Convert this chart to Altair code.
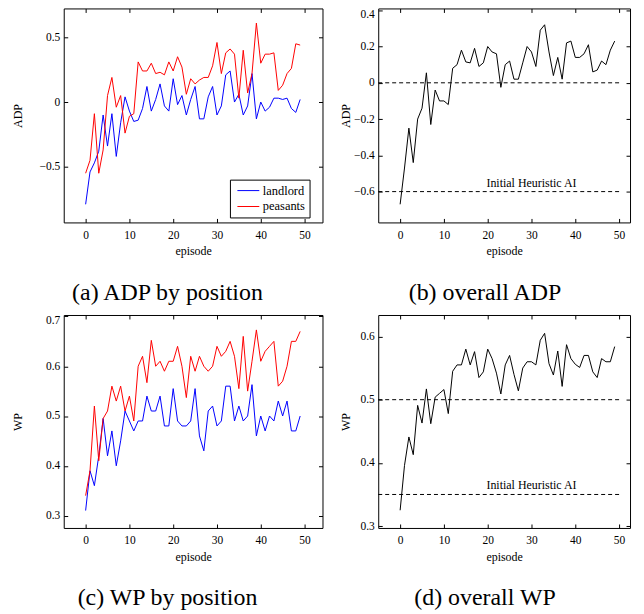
import altair as alt
import pandas as pd

episodes = list(range(50))

adp_landlord = [-0.79, -0.54, -0.47, -0.38, -0.10, -0.34, -0.09, -0.42, -0.16, 0.04,
                -0.07, -0.15, -0.14, -0.05, 0.12, -0.07, 0.02, 0.14, -0.03, -0.07,
                0.18, -0.02, 0.05, -0.10, 0.02, 0.12, -0.13, -0.13, 0.04, 0.12,
                -0.10, -0.03, 0.21, 0.24, 0.00, 0.06, -0.10, -0.03, 0.22, -0.13,
                0.00, -0.07, -0.04, 0.03, 0.03, 0.02, 0.03, -0.05, -0.08, 0.02]
adp_peasants = [-0.55, -0.45, -0.09, -0.55, -0.37, 0.05, 0.19, -0.04, 0.05, -0.24,
                -0.11, -0.09, 0.31, 0.24, 0.24, 0.30, 0.22, 0.23, 0.21, 0.31,
                0.24, 0.35, 0.27, 0.06, 0.18, 0.14, 0.17, 0.19, 0.19, 0.28,
                0.46, 0.22, 0.38, 0.41, 0.37, 0.03, 0.40, 0.07, 0.22, 0.61,
                0.30, 0.37, 0.37, 0.38, 0.09, 0.13, 0.22, 0.26, 0.45, 0.44]
adp_overall = [-0.67, -0.47, -0.25, -0.44, -0.20, -0.14, 0.055, -0.23, -0.04, -0.10,
               -0.10, -0.12, 0.08, 0.10, 0.18, 0.115, 0.11, 0.19, 0.09, 0.11,
               0.20, 0.17, 0.16, -0.025, 0.10, 0.12, 0.02, 0.02, 0.11, 0.20,
               0.17, 0.09, 0.29, 0.32, 0.17, 0.04, 0.14, 0.02, 0.22, 0.23,
               0.14, 0.14, 0.16, 0.21, 0.06, 0.07, 0.12, 0.10, 0.18, 0.23]
wp_landlord = [0.31, 0.39, 0.36, 0.42, 0.495, 0.42, 0.47, 0.40, 0.45, 0.51,
               0.49, 0.47, 0.49, 0.49, 0.54, 0.51, 0.51, 0.54, 0.48, 0.48,
               0.555, 0.49, 0.48, 0.48, 0.49, 0.555, 0.46, 0.43, 0.51, 0.52,
               0.48, 0.49, 0.56, 0.56, 0.49, 0.52, 0.49, 0.50, 0.563, 0.46,
               0.50, 0.47, 0.50, 0.49, 0.53, 0.50, 0.53, 0.47, 0.47, 0.50]
wp_peasants = [0.34, 0.39, 0.52, 0.41, 0.495, 0.51, 0.56, 0.53, 0.56, 0.51,
               0.54, 0.49, 0.60, 0.62, 0.567, 0.652, 0.60, 0.61, 0.59, 0.61,
               0.61, 0.64, 0.60, 0.537, 0.62, 0.59, 0.62, 0.60, 0.59, 0.60,
               0.64, 0.62, 0.63, 0.65, 0.62, 0.555, 0.66, 0.55, 0.61, 0.673,
               0.61, 0.63, 0.64, 0.65, 0.56, 0.57, 0.60, 0.65, 0.65, 0.67]
wp_overall = [0.325, 0.396, 0.441, 0.413, 0.491, 0.463, 0.517, 0.462, 0.504, 0.51,
              0.516, 0.478, 0.545, 0.555, 0.555, 0.58, 0.555, 0.576, 0.535, 0.544,
              0.58, 0.565, 0.542, 0.509, 0.555, 0.57, 0.54, 0.514, 0.55, 0.56,
              0.56, 0.555, 0.594, 0.605, 0.557, 0.539, 0.577, 0.521, 0.587, 0.565,
              0.556, 0.551, 0.57, 0.57, 0.544, 0.535, 0.565, 0.56, 0.56, 0.584]

series_names = ["landlord", "peasants"]
series_colors = ["#0000ff", "#ff0000"]

x_ticks = [0, 10, 20, 30, 40, 50]
adp_pos_ticks = [-0.5, 0, 0.5]
adp_all_ticks = [-0.6, -0.4, -0.2, 0, 0.2, 0.4]
wp_pos_ticks = [0.3, 0.4, 0.5, 0.6, 0.7]
wp_all_ticks = [0.3, 0.4, 0.5, 0.6]

adp_refs = [0.0, -0.6]
wp_refs = [0.5, 0.35]
ref_start = -5
ref_end = 50
ref_label = "Initial Heuristic AI"
ref_label_episode = 30

captions = ["(a) ADP by position", "(b) overall ADP", "(c) WP by position", "(d) overall WP"]

FONT = "Liberation Serif"
TICK_FS = 11.5


def x_axis_bottom():
    return alt.Axis(values=x_ticks, format="d", orient="bottom", offset=-4, tickSize=4,
                    domain=False, grid=False, labelPadding=7, title="episode",
                    titlePadding=5, labelFont=FONT, labelFontSize=TICK_FS,
                    titleFont=FONT, titleFontSize=12, titleFontWeight="normal",
                    labelColor="black", titleColor="black", tickColor="black")


def x_axis_top():
    return alt.Axis(values=x_ticks, orient="top", offset=-4, tickSize=4, domain=False,
                    grid=False, labels=False, title=None, tickColor="black")


def y_axis_left(ticks, title, ext, tpad, flush):
    if flush:
        return alt.Axis(values=ticks, format="~g", orient="left", offset=-4, tickSize=4,
                        domain=False, grid=False, labelPadding=4, title=title,
                        minExtent=ext, maxExtent=ext, titlePadding=tpad,
                        labelFlush=3, labelFlushOffset=1.5,
                        labelFont=FONT, labelFontSize=TICK_FS, titleFont=FONT,
                        titleFontSize=12, titleFontWeight="normal", labelColor="black",
                        titleColor="black", tickColor="black")
    return alt.Axis(values=ticks, format="~g", orient="left", offset=-4, tickSize=4,
                    domain=False, grid=False, labelPadding=4, title=title,
                    minExtent=ext, maxExtent=ext, titlePadding=tpad,
                    labelFont=FONT, labelFontSize=TICK_FS, titleFont=FONT, titleFontSize=12,
                    titleFontWeight="normal", labelColor="black", titleColor="black",
                    tickColor="black")


def y_axis_right(ticks):
    return alt.Axis(values=ticks, orient="right", offset=-4, tickSize=4, domain=False,
                    grid=False, labels=False, title=None, tickColor="black")


def caption(text):
    return alt.TitleParams(text=text, orient="bottom", anchor="middle", frame="bounds",
                           font=FONT, fontSize=24, fontWeight="normal", color="black",
                           offset=24)


def panel_pos(landlord, peasants, yticks, ydomain, ytitle, cap, height, flush):
    df = pd.DataFrame({
        "episode": episodes + episodes,
        "value": landlord + peasants,
        "series": [series_names[0]] * len(landlord) + [series_names[1]] * len(peasants),
    })
    xs = alt.Scale(domain=[-5, 54.1], nice=False, zero=False)
    ys = alt.Scale(domain=ydomain, nice=False, zero=False)
    lines = alt.Chart(df).mark_line(strokeWidth=1, clip=True).encode(
        x=alt.X("episode:Q", scale=xs, axis=x_axis_bottom()),
        y=alt.Y("value:Q", scale=ys, axis=y_axis_left(yticks, ytitle, 38, 5, flush)),
        color=alt.Color("series:N",
                        scale=alt.Scale(domain=series_names, range=series_colors),
                        legend=alt.Legend(orient="none", legendX=167, legendY=172,
                                          title=None, symbolType="stroke",
                                          symbolSize=484, symbolStrokeWidth=1,
                                          clipHeight=14,
                                          symbolOffset=3, labelOffset=3,
                                          labelFont=FONT, labelFontSize=12.5,
                                          labelColor="black",
                                          strokeColor="black", fillColor="white",
                                          padding=4, rowPadding=2, cornerRadius=0)),
    )
    frame = alt.Chart(df).mark_line(strokeOpacity=0).encode(
        x=alt.X("episode:Q", scale=xs, axis=x_axis_top()),
        y=alt.Y("value:Q", scale=ys, axis=y_axis_right(yticks)),
        detail="series:N",
    )
    return alt.layer(lines, frame).resolve_axis(x="independent", y="independent").properties(
        width=260, height=height, title=caption(cap))


def panel_all(values, yticks, ydomain, ytitle, refs, cap, height, flush):
    df = pd.DataFrame({"episode": episodes, "value": values})
    rdf = pd.DataFrame({"ref": refs, "x_start": [ref_start] * len(refs),
                        "x_end": [ref_end] * len(refs)})
    tdf = pd.DataFrame({"episode": [ref_label_episode], "ref": [refs[-1]], "label": [ref_label]})
    xs = alt.Scale(domain=[-5, 52.5], nice=False, zero=False)
    ys = alt.Scale(domain=ydomain, nice=False, zero=False)
    line = alt.Chart(df).mark_line(strokeWidth=1, color="black", clip=True).encode(
        x=alt.X("episode:Q", scale=xs, axis=x_axis_bottom()),
        y=alt.Y("value:Q", scale=ys, axis=y_axis_left(yticks, ytitle, 26, 4, flush)),
    )
    rules = alt.Chart(rdf).mark_rule(strokeWidth=1, color="black", strokeDash=[4, 3]).encode(
        x=alt.X("x_start:Q", scale=xs, axis=x_axis_top()),
        x2="x_end:Q",
        y=alt.Y("ref:Q", scale=ys, axis=y_axis_right(yticks)),
    )
    text = alt.Chart(tdf).mark_text(font=FONT, fontSize=12, color="black", align="center",
                                    baseline="alphabetic", dy=-5).encode(
        x=alt.X("episode:Q", scale=xs, axis=None),
        y=alt.Y("ref:Q", scale=ys, axis=None),
        text="label:N",
    )
    return alt.layer(line, rules, text).resolve_axis(x="independent", y="independent").properties(
        width=253, height=height, title=caption(cap))


pa = panel_pos(adp_landlord, adp_peasants, adp_pos_ticks, [-0.93, 0.723], "ADP",
               captions[0], 215, False)
pb = panel_all(adp_overall, adp_all_ticks, [-0.77, 0.41], "ADP", adp_refs,
               captions[1], 215, True)
pc = panel_pos(wp_landlord, wp_peasants, wp_pos_ticks, [0.275, 0.703], "WP",
               captions[2], 214, True)
pd_ = panel_all(wp_overall, wp_all_ticks, [0.297, 0.634], "WP", wp_refs,
                captions[3], 214, False)

chart = alt.concat(pa, pb, pc, pd_, columns=2, spacing={"row": 93, "column": 56},
                   bounds="flush").properties(padding={"left": 3, "top": -2, "right": 5, "bottom": 5}
                   ).configure_view(stroke="black", strokeWidth=1)

chart.save("out.html", embed_options={"renderer": "svg", "actions": False})
